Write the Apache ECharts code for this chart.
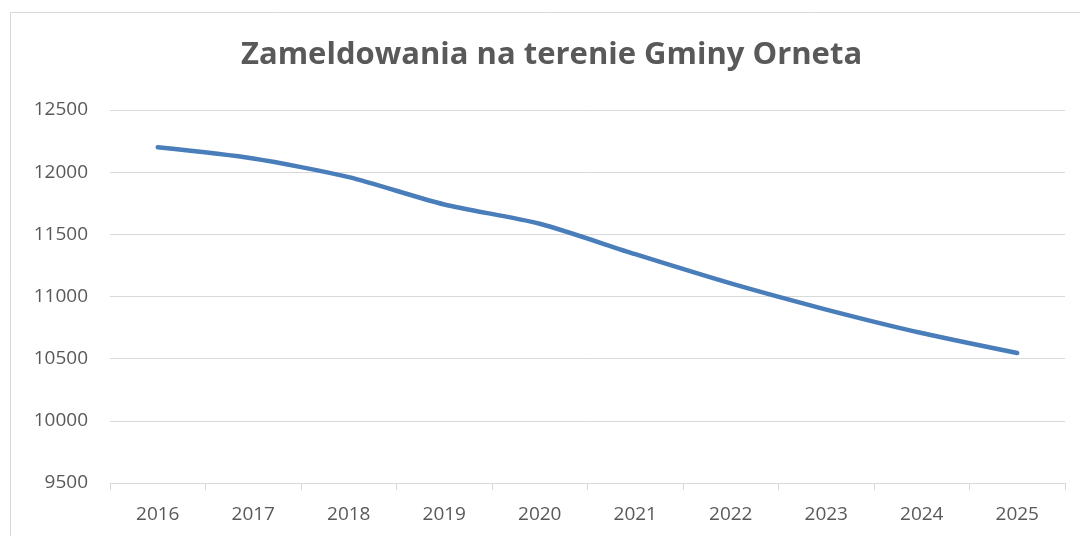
<!DOCTYPE html>
<html>
<head>
<meta charset="utf-8">
<script src="https://cdn.jsdelivr.net/npm/echarts@6/dist/echarts.min.js"></script>
<style>
html,body{margin:0;padding:0;background:#fff;}
#c{width:1080px;height:536px;}
</style>
</head>
<body>
<div id="c"></div>
<script>
const titleText = 'Zameldowania na terenie Gminy Orneta';
const years = ['2016','2017','2018','2019','2020','2021','2022','2023','2024','2025'];
const registrations = [12200, 12110, 11960, 11740, 11585, 11340, 11105, 10895, 10706, 10545];
const yMin = 9500, yMax = 12500, yStep = 500;

const chart = echarts.init(document.getElementById('c'), null, {renderer: 'canvas'});
chart.setOption({
  animation: false,
  backgroundColor: '#ffffff',
  graphic: [{
    type: 'rect',
    shape: {x: 10.5, y: 12.5, width: 1200, height: 700},
    style: {fill: 'none', stroke: '#d9d9d9', lineWidth: 1},
    silent: true
  }],
  title: {
    text: titleText,
    left: 236,
    top: 35,
    textStyle: {fontFamily: 'Open Sans', fontWeight: 'bold', fontSize: 31, color: '#595959'}
  },
  grid: {left: 110, right: 15, top: 110, bottom: 53, containLabel: false},
  xAxis: {
    type: 'category',
    data: years,
    boundaryGap: true,
    axisLine: {lineStyle: {color: '#d9d9d9', width: 1}},
    axisTick: {show: true, length: 7, lineStyle: {color: '#d9d9d9'}},
    axisLabel: {color: '#595959', fontFamily: 'Open Sans', fontSize: 19, margin: 22},
    splitLine: {show: false}
  },
  yAxis: {
    type: 'value',
    min: yMin, max: yMax, interval: yStep,
    axisLine: {show: false},
    axisTick: {show: false},
    axisLabel: {color: '#595959', fontFamily: 'Open Sans', fontSize: 19, margin: 22,
      formatter: function (v) { return String(v); }},
    splitLine: {lineStyle: {color: '#d9d9d9', width: 1}}
  },
  series: [{
    type: 'line',
    data: registrations,
    smooth: 0.25,
    symbol: 'none',
    lineStyle: {color: '#4a7ebb', width: 4.5, cap: 'round'}
  }]
});
</script>
</body>
</html>
